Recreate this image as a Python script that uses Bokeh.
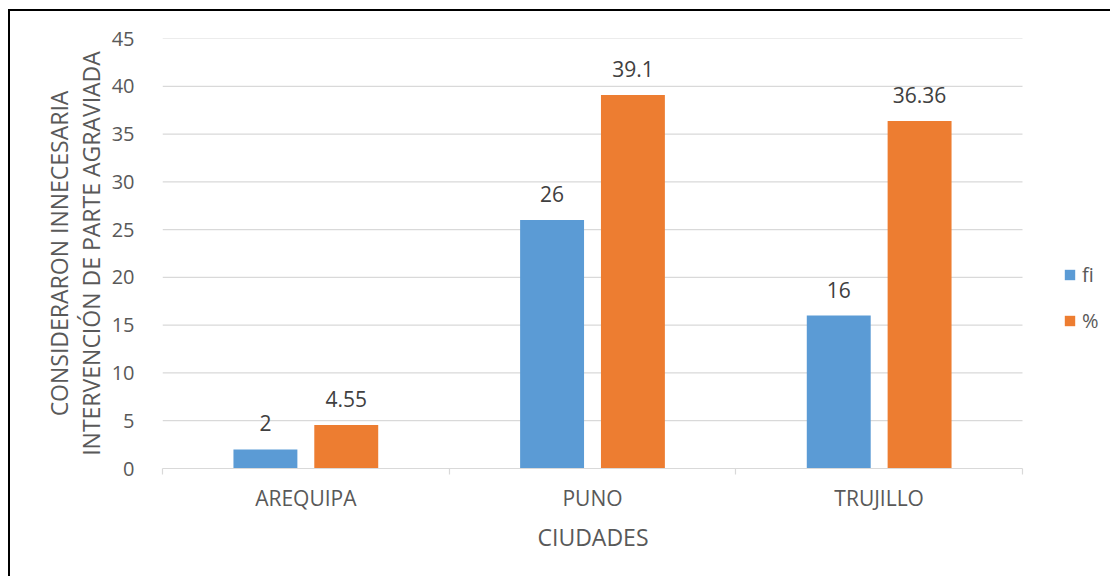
from bokeh.plotting import figure
from bokeh.models import (ColumnDataSource, Range1d, FixedTicker, Legend, LegendItem, Title)
from bokeh.transform import dodge
from bokeh.embed import file_html
from bokeh.resources import INLINE
from bokeh.core.properties import value

cities = ["AREQUIPA", "PUNO", "TRUJILLO"]
fi = [2, 26, 16]
pct = [4.55, 39.1, 36.36]
fi_labels = ["2", "26", "16"]
pct_labels = ["4.55", "39.1", "36.36"]
y_ticks = [0, 5, 10, 15, 20, 25, 30, 35, 40, 45]

FONT = "Open Sans"
BLUE = "#5b9bd5"
ORANGE = "#ed7d31"
GRID = "#d9d9d9"
TICK_TXT = "#595959"

# each city occupies one unit slot on the x axis, centred at i + 0.5
n = len(cities)
centers = [i + 0.5 for i in range(n)]
bounds = list(range(n + 1))

# canvas layout (pixels): plot area for the bars, plus a strip on the right for the legend
W, H = 1102, 567
LEFT, TOP, BOTTOM = 152, 27, 110
PLOT_W = 860
x_end = n * (W - LEFT) / PLOT_W

src = ColumnDataSource(dict(x=centers, fi=fi, pct=pct, fi_lab=fi_labels, pct_lab=pct_labels))
grid_src = ColumnDataSource(dict(y=y_ticks[1:], x0=[0] * (len(y_ticks) - 1), x1=[n] * (len(y_ticks) - 1)))

p = figure(width=W, height=H, x_range=Range1d(0, x_end), y_range=Range1d(0, 45),
           output_backend="svg", toolbar_location=None,
           min_border_left=LEFT, min_border_right=0, min_border_top=TOP, min_border_bottom=BOTTOM)
p.outline_line_color = None
p.background_fill_color = "white"
p.border_fill_color = "white"
p.styles = {"border-left": "2px solid #000000", "border-top": "2px solid #000000",
            "margin-left": "8px", "margin-top": "9px"}

# horizontal gridlines across the category slots only
p.segment(x0="x0", x1="x1", y0="y", y1="y", source=grid_src, line_color=GRID, line_width=1.2)

# bars
bw = 0.223
off = 0.141
r1 = p.vbar(x=dodge("x", -off), top="fi", width=bw, source=src,
            fill_color=BLUE, line_color=None)
r2 = p.vbar(x=dodge("x", off), top="pct", width=bw, source=src,
            fill_color=ORANGE, line_color=None)

# value labels
for col, lab, dx in (("fi", "fi_lab", -off), ("pct", "pct_lab", off)):
    p.text(x=dodge("x", dx), y=col, text=lab, source=src,
           text_align="center", text_baseline="bottom", y_offset=-18,
           text_font=value(FONT), text_font_size="21px", text_color="#404040")

# y axis
yax = p.yaxis[0]
yax.ticker = FixedTicker(ticks=y_ticks)
yax.axis_line_color = None
yax.major_tick_line_color = None
yax.minor_tick_line_color = None
yax.major_label_standoff = 22
yax.major_label_text_font = FONT
yax.major_label_text_font_size = "20px"
yax.major_label_text_color = TICK_TXT
yax.axis_label = "CONSIDERARON INNECESARIA\nINTERVENCIÓN DE PARTE AGRAVIADA"
yax.axis_label_text_font = FONT
yax.axis_label_text_font_size = "23px"
yax.axis_label_text_font_style = "normal"
yax.axis_label_text_color = TICK_TXT
yax.axis_label_text_line_height = 1.0
yax.axis_label_standoff = 2

p.xgrid.grid_line_color = None
p.ygrid.grid_line_color = None

# x axis: city names at slot centres, short ticks at slot boundaries
xax = p.xaxis[0]
xax.bounds = (0, n)
xax.ticker = FixedTicker(ticks=centers, minor_ticks=bounds)
xax.major_label_overrides = {c: name for c, name in zip(centers, cities)}
xax.major_tick_line_color = None
xax.major_tick_in = 0
xax.major_tick_out = 6
xax.minor_tick_in = 0
xax.minor_tick_out = 6
xax.minor_tick_line_color = GRID
xax.minor_tick_line_width = 1.2
xax.axis_line_color = GRID
xax.axis_line_width = 1.2
xax.major_label_standoff = 9
xax.major_label_text_font = FONT
xax.major_label_text_font_size = "21px"
xax.major_label_text_color = TICK_TXT

# x axis title, centred under the category slots
x_title = Title(text="CIUDADES", align="left", offset=375, standoff=8, text_font=FONT,
                text_font_size="23px", text_font_style="normal", text_color=TICK_TXT)
p.add_layout(x_title, "below")

legend = Legend(items=[LegendItem(label="fi", renderers=[r1]),
                       LegendItem(label="%", renderers=[r2])],
                location=(901, 134), orientation="vertical",
                glyph_width=13, glyph_height=13, label_height=22, spacing=19,
                padding=0, margin=0, border_line_color=None, background_fill_alpha=0,
                label_text_font=FONT, label_text_font_size="20px", label_text_color=TICK_TXT,
                label_standoff=6)
p.add_layout(legend, "center")

open("out.html", "w").write(file_html(p, INLINE))
